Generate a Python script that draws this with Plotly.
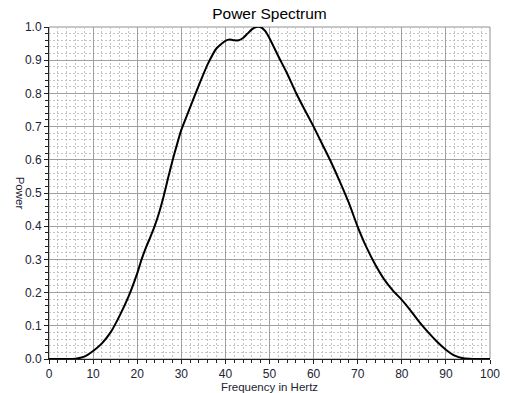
import plotly.graph_objects as go

freq = [0, 2, 4, 6, 8, 10, 12, 14, 16, 18, 20, 21, 22, 23, 24, 25, 26, 27, 28, 29,
        30, 32, 34, 36, 38, 40, 41, 42, 43, 44, 45, 46, 47, 48, 49, 50, 52, 54, 56,
        58, 60, 62, 64, 66, 68, 70, 72, 74, 76, 78, 80, 82, 84, 86, 88, 90, 92, 94,
        96, 98, 100]
power = [0.0, 0.0, 0.0, 0.001, 0.007, 0.024, 0.047, 0.081, 0.130, 0.187, 0.258,
         0.300, 0.336, 0.368, 0.402, 0.442, 0.490, 0.545, 0.597, 0.645,
         0.690, 0.758, 0.825, 0.888, 0.936, 0.958, 0.962, 0.960, 0.960, 0.967,
         0.980, 0.993, 1.0, 1.0, 0.988, 0.966, 0.912, 0.860, 0.802,
         0.750, 0.700, 0.646, 0.592, 0.533, 0.470, 0.398, 0.336, 0.284, 0.240,
         0.206, 0.178, 0.146, 0.111, 0.080, 0.052, 0.028, 0.010, 0.002,
         0.0, 0.0, 0.0]

title_text = "Power Spectrum"
x_title = "Frequency in Hertz"
y_title = "Power"

tick_color = "#1c2333"
font_family = "Liberation Sans, Arial, sans-serif"

fig = go.Figure()
fig.add_trace(go.Scatter(x=freq, y=power, mode="lines",
                         line=dict(color="black", width=2, shape="spline", smoothing=0.5),
                         hoverinfo="skip", showlegend=False))

axis_common = dict(
    showgrid=True, gridcolor="#a0a0a0", gridwidth=1,
    showline=True, linecolor="#202020", linewidth=1,
    ticks="outside", ticklen=4, tickcolor="#202020",
    tickfont=dict(family=font_family, size=12, color=tick_color),
    zeroline=False, automargin=False,
)

minor_common = dict(showgrid=True, gridcolor="#c4c4c4", griddash="2px,2px",
                    ticks="outside", ticklen=3, tickcolor="#202020")

fig.update_xaxes(range=[0, 100], dtick=10, tick0=0,
                 title=dict(text=x_title, font=dict(family=font_family, size=11.5, color=tick_color), standoff=2),
                 minor=dict(dtick=2, **minor_common),
                 **axis_common)
fig.update_yaxes(range=[0, 1], dtick=0.1, tick0=0, tickformat=".1f",
                 minor=dict(dtick=0.02, **minor_common),
                 **axis_common)

fig.add_shape(type="rect", xref="x domain", yref="y domain", x0=0, y0=0, x1=1, y1=1,
              line=dict(color="#909090", width=1), layer="below")

fig.add_annotation(text=y_title, xref="paper", yref="paper", x=-0.065, y=0.5,
                   xanchor="center", yanchor="middle",
                   textangle=90, showarrow=False,
                   font=dict(family=font_family, size=11.5, color=tick_color))

fig.update_layout(
    width=505, height=393,
    margin=dict(l=49, r=15, t=27, b=34),
    paper_bgcolor="white", plot_bgcolor="white",
    title=dict(text=title_text, x=0.5, xanchor="center", xref="paper", y=0.965, yanchor="middle",
               font=dict(family=font_family, size=15.5, color="black")),
    showlegend=False,
)

fig.write_html("out.html")
